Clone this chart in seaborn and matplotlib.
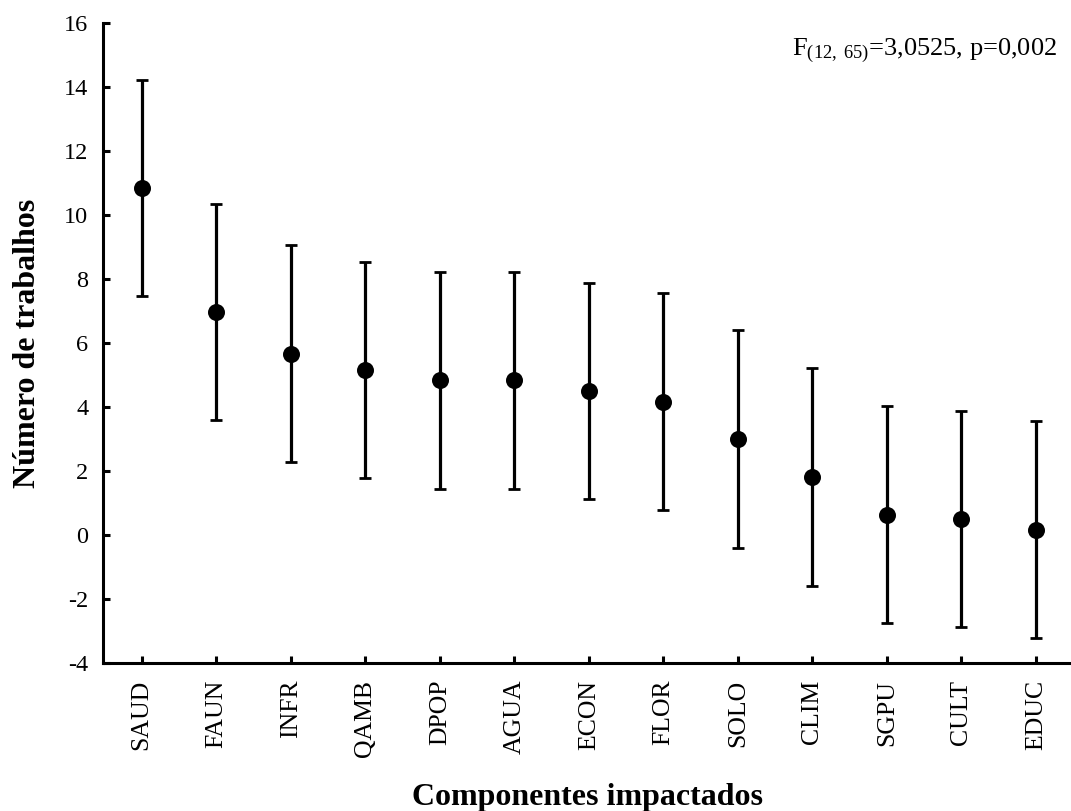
import matplotlib
matplotlib.use("Agg")
import matplotlib.pyplot as plt
import seaborn as sns
import pandas as pd

# Mean number of studies per impacted component, with 95% CI half-widths
componentes = ["SAUD", "FAUN", "INFR", "QAMB", "DPOP", "AGUA", "ECON",
               "FLOR", "SOLO", "CLIM", "SGPU", "CULT", "EDUC"]
medias = [10.85, 6.97, 5.67, 5.15, 4.83, 4.83, 4.50, 4.17, 3.00, 1.82, 0.64, 0.49, 0.17]
ic = [3.37, 3.39, 3.38, 3.38, 3.38, 3.38, 3.38, 3.40, 3.40, 3.40, 3.40, 3.38, 3.38]
yticks = [-4, -2, 0, 2, 4, 6, 8, 10, 12, 14, 16]
anotacao = r"F$_{\mathrm{(12,\ 65)}}$=3,0525, p=0,002"

df = pd.DataFrame({"componente": componentes, "media": medias, "ic": ic})

sns.set_style("ticks")
plt.rcParams["font.family"] = ["Liberation Serif", "DejaVu Serif"]
plt.rcParams["mathtext.fontset"] = "custom"
plt.rcParams["mathtext.rm"] = "Liberation Serif"
plt.rcParams["mathtext.it"] = "Liberation Serif:italic"
plt.rcParams["mathtext.bf"] = "Liberation Serif:bold"
plt.rcParams["text.color"] = "black"
plt.rcParams["axes.labelcolor"] = "black"
plt.rcParams["xtick.color"] = "black"
plt.rcParams["ytick.color"] = "black"

fig = plt.figure(figsize=(10.71, 8.11), dpi=100)
ax = fig.add_axes([0.0966, 0.1825, 1.0 - 0.0966, 0.9716 - 0.1825])

x = list(range(len(componentes)))
ax.errorbar(x, df["media"], yerr=df["ic"], fmt="none", ecolor="black",
            elinewidth=2.3, capsize=4.5, capthick=2.0, zorder=2)
sns.scatterplot(x=x, y=df["media"], color="black", s=150, edgecolor="black",
                linewidth=0, ax=ax, zorder=3, legend=False)

ax.set_xlim(-0.513, 12.47)
ax.set_ylim(-4, 16)
ax.set_yticks(yticks)
ax.set_yticklabels([str(v) for v in yticks], fontsize=17.5)
ax.set_xticks(x)
ax.set_xticklabels(componentes, rotation=90, fontsize=18.5)

for side in ["top", "right"]:
    ax.spines[side].set_visible(False)
for side in ["left", "bottom"]:
    ax.spines[side].set_linewidth(2.2)
    ax.spines[side].set_color("black")

ax.tick_params(axis="both", direction="in", length=5, width=2.2, colors="black",
               labelcolor="black")
ax.tick_params(axis="y", pad=11)
ax.tick_params(axis="x", pad=12)

ax.set_ylabel("Número de trabalhos", fontsize=23, fontweight="bold", labelpad=16)
ax.set_xlabel("Componentes impactados", fontsize=23, fontweight="bold", labelpad=19)

fig.text(1057 / 1071, 1 - 55 / 811, anotacao, ha="right", va="baseline",
         fontsize=19, color="black")

fig.savefig("out.png", dpi=100, facecolor="white")
